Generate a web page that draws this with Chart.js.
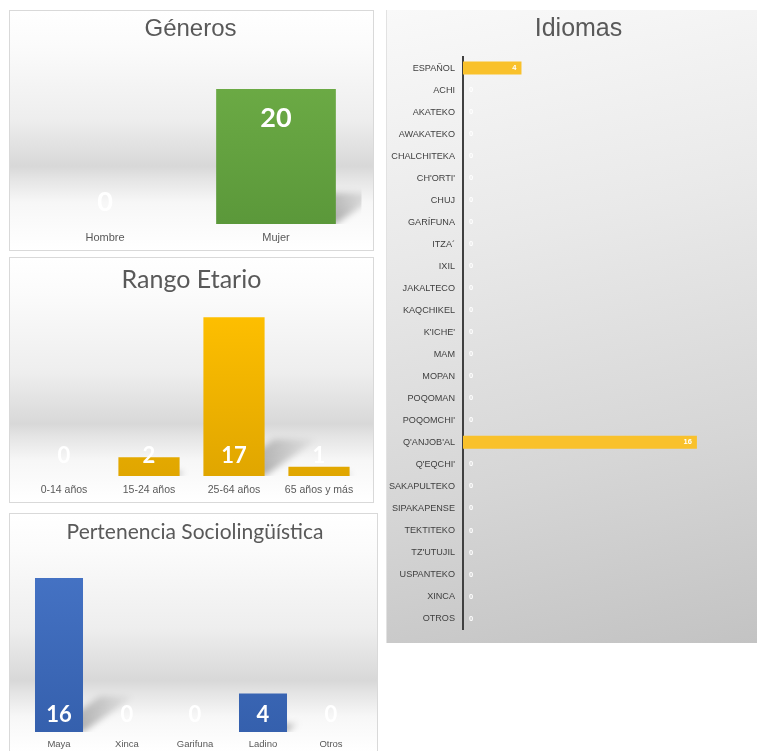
<!DOCTYPE html>
<html><head><meta charset="utf-8">
<script src="https://cdn.jsdelivr.net/npm/chart.js@4"></script>
<style>
html,body{margin:0;padding:0;background:#fff;}
body{width:757px;height:751px;overflow:hidden;position:relative;}
.panel{position:absolute;box-sizing:border-box;}
.panel canvas{position:absolute;left:0;top:0;}
#p1{left:9px;top:10px;width:365px;height:241px;border:1px solid #d9d9d9;
 background:linear-gradient(to bottom,#ffffff 0%,#fbfbfb 15%,#eeeeee 45%,#d8d8d8 65%,#e4e4e4 70%,#f7f7f7 80%,#ffffff 100%);}
#p2{left:9px;top:257px;width:365px;height:246px;border:1px solid #d9d9d9;
 background:linear-gradient(to bottom,#ffffff 0%,#fbfbfb 15%,#eeeeee 47%,#d8d8d8 68%,#e4e4e4 73%,#f7f7f7 83%,#ffffff 100%);}
#p3{left:9px;top:513px;width:369px;height:240px;border:1px solid #d9d9d9;
 background:linear-gradient(to bottom,#ffffff 0%,#fbfbfb 15%,#eeeeee 48%,#d8d8d8 70%,#e4e4e4 75%,#f7f7f7 85%,#ffffff 100%);}
#p4{left:386px;top:10px;width:371px;height:633px;border-left:1px solid #e2e2e2;overflow:hidden;
 background:linear-gradient(168deg,#f9f9f9 0%,#e9e9e9 35%,#d6d6d6 70%,#c3c3c3 100%);}
.box{position:absolute;left:0;top:0;}
</style>
</head>
<body>
<div class="panel" id="p1"><div class="box" style="width:363px;height:239px"><canvas id="c1"></canvas></div></div>
<div class="panel" id="p2"><div class="box" style="width:363px;height:244px"><canvas id="c2"></canvas></div></div>
<div class="panel" id="p3"><div class="box" style="width:367px;height:238px"><canvas id="c3"></canvas></div></div>
<div class="panel" id="p4"><div class="box" style="width:383px;height:633px"><canvas id="c4"></canvas></div></div>
<script>
// ---- data ----
const generoCats = ['Hombre', 'Mujer'];
const generoVals = [0, 20];

const edadCats = ['0-14 años', '15-24 años', '25-64 años', '65 años y más'];
const edadVals = [0, 2, 17, 1];

const pertCats = ['Maya', 'Xinca', 'Garifuna', 'Ladino', 'Otros'];
const pertVals = [16, 0, 0, 4, 0];

const idiomaCats = ['ESPAÑOL', 'ACHI', 'AKATEKO', 'AWAKATEKO', 'CHALCHITEKA', "CH'ORTI'", 'CHUJ', 'GARÍFUNA', 'ITZA´', 'IXIL', 'JAKALTECO', 'KAQCHIKEL', "K'ICHE'", 'MAM', 'MOPAN', 'POQOMAN', "POQOMCHI'", "Q'ANJOB'AL", "Q'EQCHI'", 'SAKAPULTEKO', 'SIPAKAPENSE', 'TEKTITEKO', "TZ'UTUJIL", 'USPANTEKO', 'XINCA', 'OTROS'];
const idiomaVals = [4, 0, 0, 0, 0, 0, 0, 0, 0, 0, 0, 0, 0, 0, 0, 0, 0, 16, 0, 0, 0, 0, 0, 0, 0, 0];

// ---- plugins ----
const valueLabels = {
  id: 'valueLabels',
  afterDatasetsDraw(chart, args, opts) {
    const ctx = chart.ctx;
    const meta = chart.getDatasetMeta(0);
    const data = chart.data.datasets[0].data;
    ctx.save();
    ctx.fillStyle = opts.color || '#ffffff';
    ctx.font = opts.font;
    ctx.textBaseline = 'middle';
    meta.data.forEach((el, i) => {
      const v = data[i];
      const p = el.getProps(['x', 'y', 'base'], true);
      let x, y, align = 'center';
      if (opts.mode === 'hEnd') {
        y = p.y;
        if (v > 0) { x = p.x - opts.offset; align = 'right'; }
        else { x = p.base + opts.zeroOffset; align = 'left'; }
      } else if (opts.mode === 'insideBase') {
        x = p.x; y = p.base - opts.offset;
      } else {
        x = p.x; y = v > 0 ? p.y + opts.offset : p.base - opts.zeroOffset;
      }
      ctx.textAlign = align;
      ctx.fillText(String(v), x, y);
    });
    ctx.restore();
  }
};

const barShadow = {
  id: 'barShadow',
  beforeDatasetsDraw(chart) {
    const ctx = chart.ctx, a = chart.chartArea;
    const meta = chart.getDatasetMeta(0);
    ctx.save();
    ctx.beginPath();
    ctx.rect(a.left, a.top, a.right - a.left, a.bottom - a.top);
    ctx.clip();
    ctx.filter = 'blur(3px)';
    meta.data.forEach(el => {
      const p = el.getProps(['x', 'y', 'base', 'width'], true);
      const h = p.base - p.y;
      if (h <= 1) return;
      const L = p.x - p.width / 2, R = p.x + p.width / 2;
      const d = 0.33 * h, e = 0.23 * h;
      const g = ctx.createLinearGradient(R, p.base, R + d, p.base - e);
      g.addColorStop(0, 'rgba(0,0,0,0.30)');
      g.addColorStop(1, 'rgba(0,0,0,0.02)');
      ctx.fillStyle = g;
      ctx.beginPath();
      ctx.moveTo(L + p.width * 0.3, p.base);
      ctx.lineTo(R, p.base);
      ctx.lineTo(R + d, p.base - e);
      ctx.lineTo(L + p.width * 0.3 + d, p.base - e);
      ctx.closePath();
      ctx.fill();
    });
    ctx.restore();
  }
};

function vGrad(top, bottom) {
  return (c) => {
    const chart = c.chart; const a = chart.chartArea;
    if (!a) return top;
    const g = chart.ctx.createLinearGradient(0, a.top, 0, a.bottom);
    g.addColorStop(0, top); g.addColorStop(1, bottom);
    return g;
  };
}

function columnChart(id, cats, vals, o) {
  return new Chart(document.getElementById(id), {
    type: 'bar',
    data: { labels: cats, datasets: [{ data: vals, backgroundColor: vGrad(o.c1, o.c2), borderWidth: 0,
      barPercentage: 1, categoryPercentage: o.catPct }] },
    plugins: [barShadow, valueLabels],
    options: {
      responsive: true, maintainAspectRatio: false, animation: false,
      layout: { padding: { left: o.padL, right: o.padR, top: 0, bottom: 0 } },
      plugins: {
        legend: { display: false }, tooltip: { enabled: false },
        title: { display: true, text: o.title, color: '#595959',
          font: { family: o.titleFont, size: o.titleSize, weight: 'normal' },
          padding: { top: o.titleTop, bottom: o.titleBottom } },
        valueLabels: o.labels
      },
      scales: {
        x: { grid: { display: false, drawTicks: false }, border: { display: false },
          ticks: { color: '#595959', padding: o.tickPad, font: { family: o.tickFont, size: o.tickSize } },
          afterFit: s => { s.height = o.axisH; } },
        y: { display: false, min: 0, max: o.max }
      }
    }
  });
}

columnChart('c1', generoCats, generoVals, {
  c1: '#6fae47', c2: '#5b983a', catPct: 0.70, padL: 9.5, padR: 11.5,
  title: 'Géneros', titleFont: "'Liberation Sans', Arial, sans-serif", titleSize: 24, titleTop: 3.6, titleBottom: 11.9,
  tickPad: 7, tickFont: "'Liberation Sans', Arial, sans-serif", tickSize: 11, axisH: 26, max: 25,
  labels: { mode: 'insideEnd', font: "bold 27px Lato, 'Open Sans', sans-serif", offset: 29, zeroOffset: 22 }
});

columnChart('c2', edadCats, edadVals, {
  c1: '#ffc000', c2: '#e0a600', catPct: 0.72, padL: 11.5, padR: 11.5,
  title: 'Rango Etario', titleFont: "Lato, 'Open Sans', sans-serif", titleSize: 25, titleTop: 7.0, titleBottom: 12.9,
  tickPad: 8, tickFont: "'Liberation Sans', Arial, sans-serif", tickSize: 10.5, axisH: 26, max: 18,
  labels: { mode: 'insideBase', font: "bold 22px Lato, 'Open Sans', sans-serif", offset: 20 }
});

columnChart('c3', pertCats, pertVals, {
  c1: '#4674c6', c2: '#3560ad', catPct: 0.706, padL: 15, padR: 12,
  title: 'Pertenencia Sociolingüística', titleFont: "Lato, 'Open Sans', sans-serif", titleSize: 21, titleTop: 5.8, titleBottom: 13.7,
  tickPad: 7, tickFont: "'Liberation Sans', Arial, sans-serif", tickSize: 9.5, axisH: 20, max: 18,
  labels: { mode: 'insideBase', font: "bold 22px Lato, 'Open Sans', sans-serif", offset: 17 }
});

new Chart(document.getElementById('c4'), {
  type: 'bar',
  data: { labels: idiomaCats, datasets: [{ data: idiomaVals, backgroundColor: '#f9c12b', borderWidth: 0,
    barPercentage: 1, categoryPercentage: 0.59 }] },
  plugins: [valueLabels],
  options: {
    indexAxis: 'y', responsive: true, maintainAspectRatio: false, animation: false,
    layout: { padding: { left: 0, right: 0, top: 0, bottom: 12 } },
    plugins: {
      legend: { display: false }, tooltip: { enabled: false },
      title: { display: true, text: 'Idiomas', color: '#595959',
        font: { family: "'Liberation Sans', Arial, sans-serif", size: 25, weight: 'normal' },
        padding: { top: 4.0, bottom: 13.0 } },
      valueLabels: { mode: 'hEnd', font: "bold 7.5px 'Liberation Sans', Arial, sans-serif", offset: 5, zeroOffset: 6 }
    },
    scales: {
      x: { display: false, min: 0, max: 21 },
      y: { grid: { display: false, drawTicks: false }, border: { display: true, color: '#404040', width: 2 },
        ticks: { color: '#404040', padding: 8, autoSkip: false, font: { family: "'Liberation Sans', Arial, sans-serif", size: 9.1 } },
        afterFit: s => { s.width = 76; } }
    }
  }
});
</script>
</body></html>
